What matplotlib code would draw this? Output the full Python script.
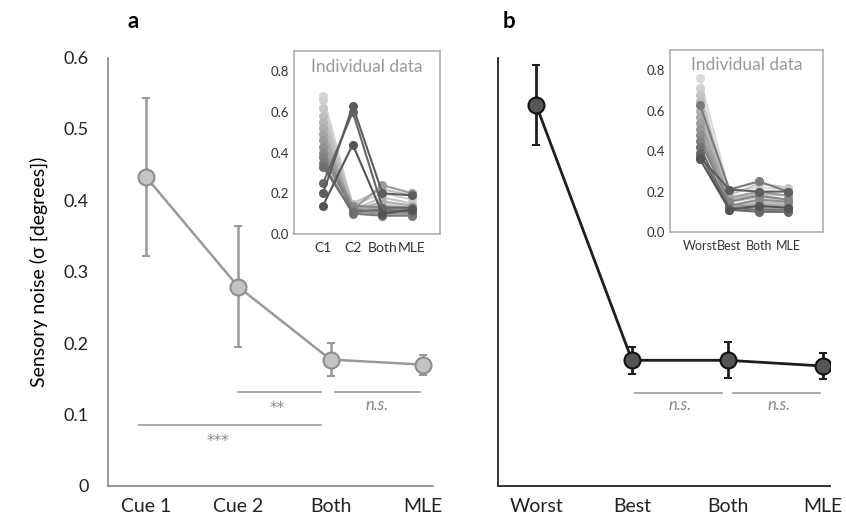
import matplotlib
matplotlib.use("Agg")
import matplotlib.pyplot as plt
import numpy as np

plt.rcParams['font.family'] = ['Lato', 'DejaVu Sans']

# group means and error bars
cats_a = ['Cue 1', 'Cue 2', 'Both', 'MLE']
mean_a = [0.433, 0.279, 0.177, 0.170]
err_a = [0.111, 0.085, 0.023, 0.014]

cats_b = ['Worst', 'Best', 'Both', 'MLE']
mean_b = [0.533, 0.176, 0.176, 0.168]
err_b = [0.056, 0.019, 0.025, 0.018]

# individual data (insets)
ins_a_labels = ['C1', 'C2', 'Both', 'MLE']
ind_a = [
    [0.68, 0.13, 0.15, 0.14],
    [0.66, 0.14, 0.20, 0.17],
    [0.62, 0.12, 0.18, 0.15],
    [0.58, 0.15, 0.22, 0.19],
    [0.55, 0.12, 0.14, 0.13],
    [0.52, 0.11, 0.16, 0.14],
    [0.49, 0.13, 0.12, 0.12],
    [0.46, 0.12, 0.24, 0.20],
    [0.43, 0.11, 0.10, 0.10],
    [0.40, 0.14, 0.13, 0.12],
    [0.38, 0.12, 0.11, 0.11],
    [0.35, 0.10, 0.09, 0.09],
    [0.33, 0.11, 0.12, 0.11],
    [0.25, 0.60, 0.13, 0.13],
    [0.20, 0.63, 0.20, 0.19],
    [0.14, 0.44, 0.10, 0.12],
]

ins_b_labels = ['Worst', 'Best', 'Both', 'MLE']
ind_b = [
    [0.76, 0.20, 0.22, 0.21],
    [0.71, 0.15, 0.17, 0.16],
    [0.68, 0.18, 0.24, 0.22],
    [0.65, 0.13, 0.15, 0.14],
    [0.60, 0.16, 0.19, 0.18],
    [0.57, 0.12, 0.14, 0.13],
    [0.54, 0.17, 0.20, 0.18],
    [0.51, 0.14, 0.12, 0.12],
    [0.48, 0.13, 0.16, 0.15],
    [0.45, 0.15, 0.18, 0.16],
    [0.63, 0.21, 0.25, 0.20],
    [0.42, 0.12, 0.11, 0.11],
    [0.39, 0.11, 0.10, 0.10],
    [0.37, 0.21, 0.20, 0.20],
    [0.36, 0.11, 0.13, 0.12],
]

fig = plt.figure(figsize=(8.46, 5.2), dpi=100)
axa = fig.add_axes([0.1277, 0.0654, 0.3842, 0.824])
axb = fig.add_axes([0.5887, 0.0654, 0.3924, 0.824])

x = np.arange(4)

# ---- panel a
axa.errorbar(x, mean_a, yerr=err_a, color='#999999', lw=1.8, elinewidth=1.8,
             capsize=3, capthick=1.8, marker='o', ms=11.5, mfc='#c4c4c4',
             mec='#8e8e8e', mew=1.5, zorder=3)
axa.set_xlim(-0.41, 3.11)
axa.set_ylim(0, 0.6)
axa.set_xticks(x)
axa.set_xticklabels(cats_a, fontsize=14)
axa.set_yticks(np.arange(0, 0.61, 0.1))
axa.set_yticklabels(['0', '0.1', '0.2', '0.3', '0.4', '0.5', '0.6'], fontsize=13)
axa.tick_params(length=0, pad=9, colors='#222222')
axa.tick_params(axis='y', pad=14)
for s in ['top', 'right']:
    axa.spines[s].set_visible(False)
for s in ['left', 'bottom']:
    axa.spines[s].set_color('#888888')
    axa.spines[s].set_linewidth(1.2)
axa.set_ylabel('Sensory noise (σ [degrees])', fontsize=14, labelpad=11)

sig_col = '#999999'
txt_col = '#888888'
axa.plot([1.0, 1.9], [0.131, 0.131], color=sig_col, lw=1.2)
axa.plot([2.05, 2.97], [0.131, 0.131], color=sig_col, lw=1.2)
axa.plot([-0.08, 1.9], [0.085, 0.085], color=sig_col, lw=1.2)
axa.text(1.42, 0.108, '**', ha='center', va='center', fontsize=11,
         color=txt_col, family='DejaVu Sans')
axa.text(2.5, 0.113, 'n.s.', ha='center', va='center', fontsize=12,
         color=txt_col, style='italic')
axa.text(0.78, 0.062, '***', ha='center', va='center', fontsize=11,
         color=txt_col, family='DejaVu Sans')

# ---- panel b
axb.errorbar(x, mean_b, yerr=err_b, color='#1e1e1e', lw=2.0, elinewidth=2.0,
             capsize=3, capthick=2.0, marker='o', ms=11.5, mfc='#555555',
             mec='#111111', mew=1.5, zorder=3)
axb.set_xlim(-0.40, 3.07)
axb.set_ylim(0, 0.6)
axb.set_xticks(x)
axb.set_xticklabels(cats_b, fontsize=14)
axb.set_yticks([])
axb.tick_params(length=0, pad=9, colors='#222222')
for s in ['top', 'right']:
    axb.spines[s].set_visible(False)
for s in ['left', 'bottom']:
    axb.spines[s].set_color('#333333')
    axb.spines[s].set_linewidth(1.4)
axb.plot([1.03, 1.94], [0.130, 0.130], color=sig_col, lw=1.2)
axb.plot([2.06, 2.97], [0.130, 0.130], color=sig_col, lw=1.2)
axb.text(1.5, 0.113, 'n.s.', ha='center', va='center', fontsize=12,
         color=txt_col, style='italic')
axb.text(2.54, 0.113, 'n.s.', ha='center', va='center', fontsize=12,
         color=txt_col, style='italic')

fig.text(128 / 846, 1 - 22 / 520, 'a', fontsize=16, fontweight='bold', ha='left', va='center')
fig.text(503 / 846, 1 - 22 / 520, 'b', fontsize=16, fontweight='bold', ha='left', va='center')


# ---- insets
def draw_inset(rect, data, labels, xlim, lab_size):
    ax = fig.add_axes(rect)
    n = len(data)
    shades = np.linspace(0.85, 0.33, n)
    for row, g in zip(data, shades):
        c = (g, g, g)
        ax.plot(x, row, color=c, lw=1.5, marker='o', ms=5.5, mfc=c, mec=c)
    ax.set_xlim(*xlim)
    ax.set_ylim(0, 0.9)
    ax.set_yticks([0, 0.2, 0.4, 0.6, 0.8])
    ax.set_yticklabels(['0.0', '0.2', '0.4', '0.6', '0.8'], fontsize=9.5)
    ax.set_xticks(x)
    ax.set_xticklabels(labels, fontsize=lab_size)
    ax.tick_params(length=0, colors='#333333')
    ax.tick_params(axis='x', pad=6)
    for s in ax.spines.values():
        s.set_color('#a8a8a8')
        s.set_linewidth(1.1)
    ax.text(0.5, 0.915, 'Individual data', transform=ax.transAxes, ha='center',
            va='center', fontsize=12.5, color='#999999')
    return ax


draw_inset([0.3475, 0.55, 0.1726, 0.3519], ind_a, ins_a_labels, (-0.98, 3.94), 10)
draw_inset([0.7920, 0.5538, 0.1809, 0.35], ind_b, ins_b_labels, (-1.02, 4.19), 9)

fig.savefig('out.png', dpi=100)
